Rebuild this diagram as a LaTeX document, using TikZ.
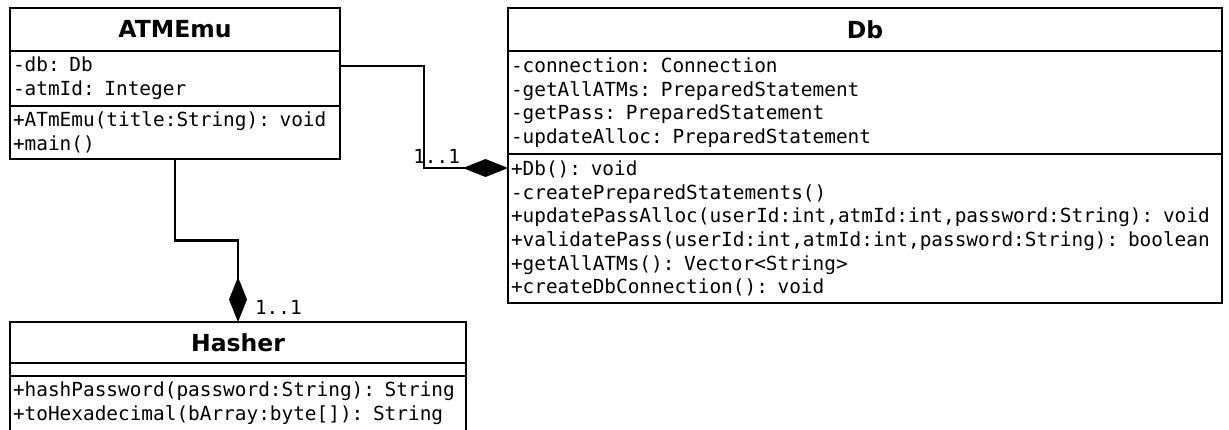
\documentclass[tikz,border=0pt]{standalone}
\usepackage{fontspec}
\usetikzlibrary{arrows.meta,calc,positioning}
\newfontfamily\umlsans{DejaVu Sans}
\newfontfamily\umlmono{DejaVu Sans Mono}

\begin{document}
\begin{tikzpicture}[x=1pt,y=1pt]
        \tikzstyle{every node}+=[outer sep=0pt, line width=2.9pt]
        \tikzstyle{classname}=[draw, anchor=north west, minimum height=43pt, inner sep=0pt, font=\umlsans\bfseries\fontsize{23.5}{28}\selectfont]
        \tikzstyle{classpart}=[draw, anchor=north, inner xsep=3pt, inner ysep=0pt, align=left, font=\umlmono\fontsize{19.4}{23.7}\selectfont]
        \tikzstyle{mult}=[inner sep=0pt, font=\umlmono\fontsize{19.4}{23.7}\selectfont]
        \tikzstyle{composition}=[line width=2.9pt, -{Diamond[length=45pt,width=18pt]}]
        \useasboundingbox (0,0) rectangle (1229,-429);
        \clip (0,0) rectangle (1229,-429);
        % ATMEmu
        \node[classname, minimum width=330pt] (atm) at (10,-8) {ATMEmu};
        \node[classpart, minimum height=55pt, text width=324pt] (atmattr) at (atm.south) {-db: Db\\-atmId: Integer};
        \node[classpart, minimum height=53pt, text width=324pt] (atmmeth) at (atmattr.south) {+ATmEmu(title:String): void\\+main()};
        % Db
        \node[classname, minimum width=714pt] (db) at (508,-8) {Db};
        \node[classpart, minimum height=103pt, text width=708pt] (dbattr) at (db.south) {-connection: Connection\\-getAllATMs: PreparedStatement\\-getPass: PreparedStatement\\-updateAlloc: PreparedStatement};
        \node[classpart, minimum height=149pt, text width=708pt] (dbmeth) at (dbattr.south) {+Db(): void\\-createPreparedStatements()\\+updatePassAlloc(userId:int,atmId:int,password:String): void\\+validatePass(userId:int,atmId:int,password:String): boolean\\+getAllATMs(): Vector<String>\\+createDbConnection(): void};
        % Hasher
        \node[classname, minimum width=456pt, minimum height=41pt] (hasher) at (10,-322) {Hasher};
        \node[classpart, minimum height=13pt, text width=450pt] (hashattr) at (hasher.south) {};
        \node[classpart, minimum height=55pt, text width=450pt] (hashmeth) at (hashattr.south) {+hashPassword(password:String): String\\+toHexadecimal(bArray:byte[]): String};
        % compositions
        \coordinate (atmout) at ($(atmattr.north east)+(0,-15)$);
        \coordinate (dbin) at ($(dbmeth.north west)+(0,-14)$);
        \draw[composition] (atmout) -| ($(atmout)!0.5!(dbin)$) |- (dbin);
        \node[mult, anchor=south east] (dbmult) at ($(dbin)+(-48,5)$) {1..1};
        \draw[composition] (atmmeth.south) |- ($(atmmeth.south)!0.5!(hasher.north)$) -| (hasher.north);
        \node[mult, anchor=south west] (hashmult) at ($(hasher.north)+(17,8)$) {1..1};
\end{tikzpicture}
\end{document}
